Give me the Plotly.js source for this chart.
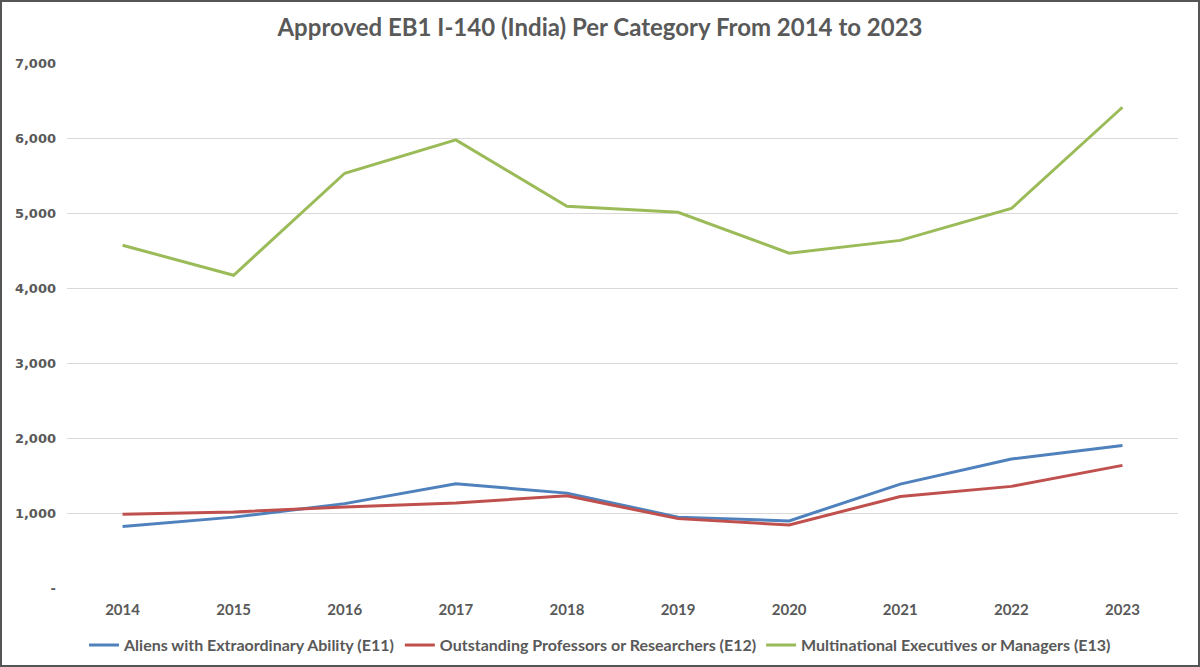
<!DOCTYPE html>
<html>
<head>
<meta charset="utf-8">
<script src="https://cdn.plot.ly/plotly-3.0.1.min.js"></script>
<style>
  html, body { margin: 0; padding: 0; background: #fff; }
  #chart { width: 1196px; height: 663px; border: 2px solid #555; }
</style>
</head>
<body>
<div id="chart"></div>
<script>
const years = ['2014','2015','2016','2017','2018','2019','2020','2021','2022','2023'];
const e11 = [820, 945, 1125, 1390, 1265, 945, 895, 1385, 1720, 1900];
const e12 = [985, 1015, 1080, 1135, 1230, 925, 840, 1220, 1355, 1635];
const e13 = [4570, 4170, 5530, 5975, 5090, 5010, 4465, 4635, 5060, 6410];
const seriesNames = [
  'Aliens with Extraordinary Ability (E11)',
  'Outstanding Professors or Researchers (E12)',
  'Multinational Executives or Managers (E13)'
];
const yTickVals = [0, 1000, 2000, 3000, 4000, 5000, 6000, 7000];
const yTickText = ['-', '1,000', '2,000', '3,000', '4,000', '5,000', '6,000', '7,000'];
const titleText = 'Approved EB1 I-140 (India) Per Category From 2014 to 2023';

const colors = ['#4F81BD', '#C0504D', '#9BBB59'];
const humanist = 'Lato, "Open Sans", sans-serif';

const traces = [e11, e12, e13].map((vals, i) => ({
  x: years, y: vals, type: 'scatter', mode: 'lines',
  name: seriesNames[i],
  line: { color: colors[i], width: 3 }
}));

const layout = {
  width: 1196, height: 663,
  margin: { l: 65, r: 20, t: 61, b: 77 },
  paper_bgcolor: '#fff', plot_bgcolor: '#fff',
  title: {
    text: titleText,
    font: { family: humanist, size: 24, color: '#595959', weight: 'bold' },
    x: 0.5, xanchor: 'center', y: 0.961, yanchor: 'middle'
  },
  showlegend: true,
  legend: {
    orientation: 'h', xref: 'container', x: 0.5, xanchor: 'center',
    yref: 'container', y: 0.030, yanchor: 'middle',
    font: { family: humanist, size: 16, color: '#595959', weight: 'bold' },
    itemwidth: 30
  },
  xaxis: {
    type: 'category', range: [-0.5, 9.5],
    showgrid: false, showline: false, zeroline: false,
    tickfont: { family: humanist, size: 15, color: '#595959', weight: 'bold' },
    ticklabelstandoff: 11
  },
  yaxis: {
    range: [0, 7000],
    tickvals: yTickVals, ticktext: yTickText,
    showgrid: true, gridcolor: '#D9D9D9', gridwidth: 1,
    zeroline: false, showline: false,
    tickfont: { family: 'DejaVu Sans, Verdana, sans-serif', size: 13, color: '#595959', weight: 'bold' },
    ticklabelstandoff: 10
  }
};

Plotly.newPlot('chart', traces, layout, { displayModeBar: false, staticPlot: true });
</script>
</body>
</html>
